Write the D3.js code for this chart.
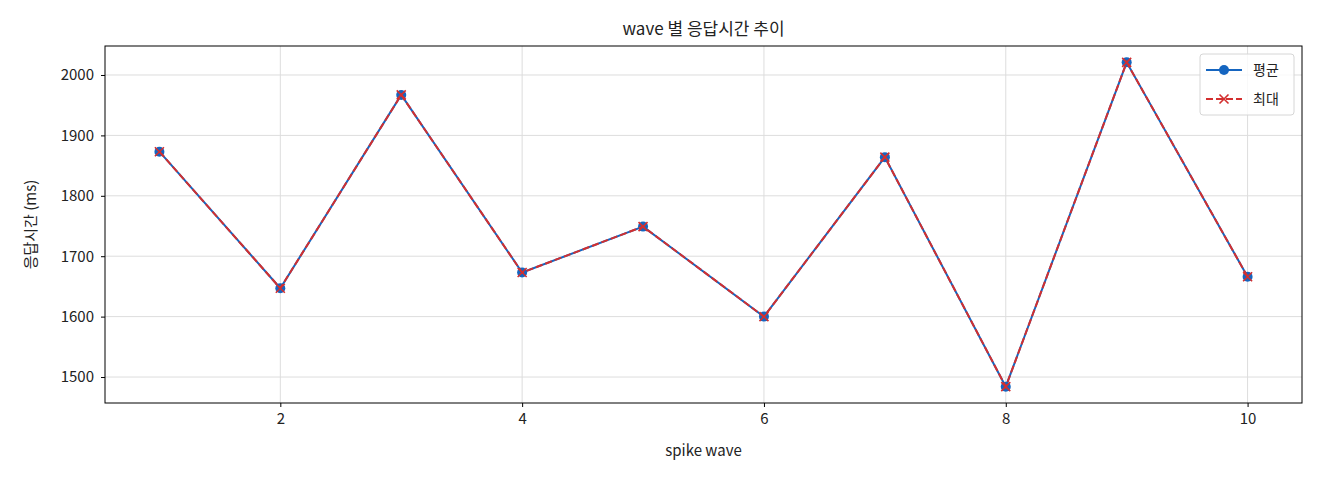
<!DOCTYPE html>
<html>
<head>
<meta charset="utf-8">
<script src="https://cdn.jsdelivr.net/npm/d3@7"></script>
<style>
  body { margin: 0; background: #fff; }
  svg text { font-family: "Noto Sans CJK KR", "Noto Sans", sans-serif; fill: #222; }
  .axis path, .axis line { stroke: #000; }
  .grid line { stroke: #ddd; stroke-width: 1; }
</style>
</head>
<body>
<svg id="svg" width="1320" height="480"></svg>
<script>
const waves = [1, 2, 3, 4, 5, 6, 7, 8, 9, 10]
const avgMs = [1873, 1647, 1967, 1673, 1749, 1600, 1864, 1484, 2021, 1666]
const maxMs = [1873, 1647, 1967, 1673, 1749, 1600, 1864, 1484, 2021, 1666]
const xTicks = [2, 4, 6, 8, 10]
const yTicks = [1500, 1600, 1700, 1800, 1900, 2000]
const seriesNames = ['평균', '최대']

const margin = { top: 46, right: 18, bottom: 77, left: 105 }
const width = 1320 - (margin.left + margin.right)
const height = 480 - (margin.top + margin.bottom)

const svg = d3.select('#svg')
const g = svg.append('g').attr('transform', `translate(${margin.left}, ${margin.top})`)

const xScale = d3.scaleLinear().domain([0.55, 10.45]).range([0, width])
const yScale = d3.scaleLinear().domain([1457, 2048]).range([height, 0])

// grid
g.append('g').attr('class', 'grid')
  .selectAll('line.v').data(xTicks).enter().append('line')
  .attr('x1', d => xScale(d)).attr('x2', d => xScale(d))
  .attr('y1', 0).attr('y2', height)
g.append('g').attr('class', 'grid')
  .selectAll('line.h').data(yTicks).enter().append('line')
  .attr('x1', 0).attr('x2', width)
  .attr('y1', d => yScale(d)).attr('y2', d => yScale(d))

// axes
const bottomAxis = d3.axisBottom(xScale).tickValues(xTicks).tickFormat(d3.format('d'))
  .tickSize(4).tickPadding(6).tickSizeOuter(0)
const leftAxis = d3.axisLeft(yScale).tickValues(yTicks).tickFormat(d3.format('d'))
  .tickSize(4).tickPadding(7).tickSizeOuter(0)

g.append('g').attr('class', 'axis')
  .attr('transform', `translate(0, ${height})`)
  .call(bottomAxis)
  .call(a => a.select('.domain').remove())
  .selectAll('text').style('font-size', '15px').attr('fill', '#222')

g.append('g').attr('class', 'axis')
  .call(leftAxis)
  .call(a => a.select('.domain').remove())
  .selectAll('text').style('font-size', '15px').attr('fill', '#222')

g.append('rect')
  .attr('width', width).attr('height', height)
  .attr('fill', 'none').attr('stroke', '#000').attr('stroke-width', 1)

// lines
const avgData = waves.map((w, i) => ({ x: w, y: avgMs[i] }))
const maxData = waves.map((w, i) => ({ x: w, y: maxMs[i] }))
const line = d3.line().x(d => xScale(d.x)).y(d => yScale(d.y))

const blue = '#1565C0'
const red = '#D32F2F'

g.append('path').datum(avgData)
  .attr('d', line).attr('fill', 'none')
  .attr('stroke', blue).attr('stroke-width', 2)

g.selectAll('circle.avg').data(avgData).enter().append('circle')
  .attr('cx', d => xScale(d.x)).attr('cy', d => yScale(d.y))
  .attr('r', 5).attr('fill', blue)

g.append('path').datum(maxData)
  .attr('d', line).attr('fill', 'none')
  .attr('stroke', red).attr('stroke-width', 2)
  .attr('stroke-dasharray', '7,3')

const xMark = (cx, cy, s) => `M${cx - s},${cy - s}L${cx + s},${cy + s}M${cx - s},${cy + s}L${cx + s},${cy - s}`
g.selectAll('path.maxm').data(maxData).enter().append('path')
  .attr('d', d => xMark(xScale(d.x), yScale(d.y), 4.5))
  .attr('stroke', red).attr('stroke-width', 1.6).attr('fill', 'none')

// title and labels
svg.append('text')
  .text('wave 별 응답시간 추이')
  .attr('x', margin.left + width / 2).attr('y', 35)
  .attr('text-anchor', 'middle').style('font-size', '17px')

svg.append('text')
  .text('spike wave')
  .attr('x', margin.left + width / 2).attr('y', 456)
  .attr('text-anchor', 'middle').style('font-size', '15px')

svg.append('text')
  .text('응답시간 (ms)')
  .attr('transform', `translate(36, ${margin.top + height / 2}) rotate(-90)`)
  .attr('text-anchor', 'middle').style('font-size', '15px')

// legend
const legend = g.append('g').attr('transform', `translate(${width - 102}, 8)`)
legend.append('rect')
  .attr('width', 94).attr('height', 61).attr('rx', 3)
  .attr('fill', 'rgba(255,255,255,0.8)').attr('stroke', '#d6d6d6')

const legendItems = legend.selectAll('g.item').data(seriesNames).enter().append('g')
  .attr('transform', (d, i) => `translate(0, ${16 + i * 29})`)

legendItems.append('line')
  .attr('x1', 6).attr('x2', 42).attr('y1', 0).attr('y2', 0)
  .attr('stroke', (d, i) => i === 0 ? blue : red).attr('stroke-width', 2)
  .attr('stroke-dasharray', (d, i) => i === 0 ? null : '7,3')

legendItems.filter((d, i) => i === 0).append('circle')
  .attr('cx', 24).attr('cy', 0).attr('r', 5).attr('fill', blue)
legendItems.filter((d, i) => i === 1).append('path')
  .attr('d', xMark(24, 0, 4.5)).attr('stroke', red).attr('stroke-width', 1.6)

legendItems.append('text')
  .text(d => d)
  .attr('x', 53).attr('y', 5).style('font-size', '14px')
</script>
</body>
</html>
